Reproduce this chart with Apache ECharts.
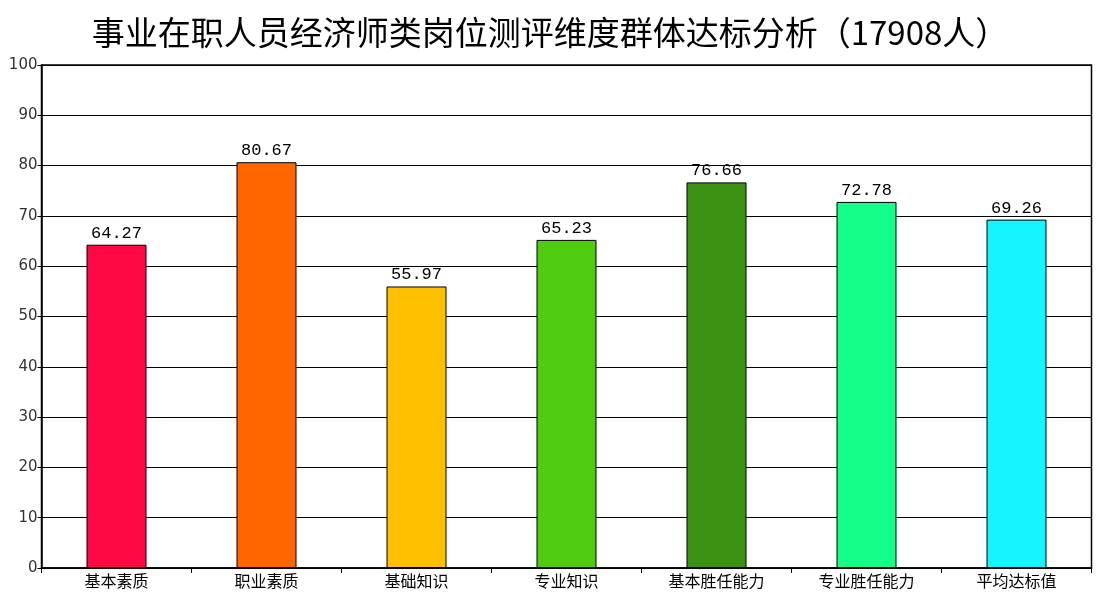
<!DOCTYPE html>
<html>
<head>
<meta charset="utf-8">
<script src="https://cdn.jsdelivr.net/npm/echarts@6/dist/echarts.min.js"></script>
<style>
    html, body { margin: 0; padding: 0; background: #fff; }
    #chart { width: 1100px; height: 600px; }
</style>
</head>
<body>
<div id="chart"></div>
<script>
var titleText = '事业在职人员经济师类岗位测评维度群体达标分析（17908人）';
var categories = ['基本素质', '职业素质', '基础知识', '专业知识', '基本胜任能力', '专业胜任能力', '平均达标值'];
var values = [64.27, 80.67, 55.97, 65.23, 76.66, 72.78, 69.26];
var barColors = ['#FF0844', '#FF6600', '#FFC000', '#4DCC10', '#3B9112', '#14FF8A', '#14F5FF'];
var yTicks = [0, 10, 20, 30, 40, 50, 60, 70, 80, 90, 100];

var chart = echarts.init(document.getElementById('chart'));

var seriesData = [];
for (var i = 0; i < values.length; i++) {
    seriesData.push({
        value: values[i],
        itemStyle: {color: barColors[i]}
    });
}

var option = {
    backgroundColor: '#fff',
    animation: false,
    title: {
        text: titleText,
        left: 'center',
        top: 11,
        textStyle: {
            fontFamily: 'Noto Sans CJK SC',
            fontSize: 33,
            fontWeight: 'normal',
            color: '#000'
        }
    },
    grid: {
        left: 41.5,
        right: 8.5,
        top: 65,
        bottom: 32,
        show: true,
        borderColor: '#000',
        borderWidth: 1.5
    },
    xAxis: {
        type: 'category',
        data: categories,
        axisLine: {lineStyle: {color: '#000', width: 1.5}},
        axisTick: {show: true, length: 5, lineStyle: {color: '#000'}},
        axisLabel: {
            fontFamily: 'Noto Sans CJK SC',
            fontSize: 16,
            color: '#000',
            margin: 5
        }
    },
    yAxis: {
        type: 'value',
        min: yTicks[0],
        max: yTicks[yTicks.length - 1],
        interval: 10,
        axisLine: {show: true, lineStyle: {color: '#000', width: 1.5}},
        axisTick: {show: true, length: 4, lineStyle: {color: '#000'}},
        splitLine: {lineStyle: {color: '#000', width: 1.2}},
        axisLabel: {
            fontFamily: 'DejaVu Sans',
            fontSize: 15,
            color: '#333',
            margin: 4
        }
    },
    series: [{
        type: 'bar',
        data: seriesData,
        barWidth: '40%',
        itemStyle: {borderColor: '#000', borderWidth: 1},
        label: {
            show: true,
            position: 'top',
            distance: 3,
            fontFamily: 'Liberation Mono',
            fontSize: 17,
            color: '#000',
            formatter: function (p) {
                return p.value.toFixed(2);
            }
        }
    }]
};

chart.setOption(option);
</script>
</body>
</html>
